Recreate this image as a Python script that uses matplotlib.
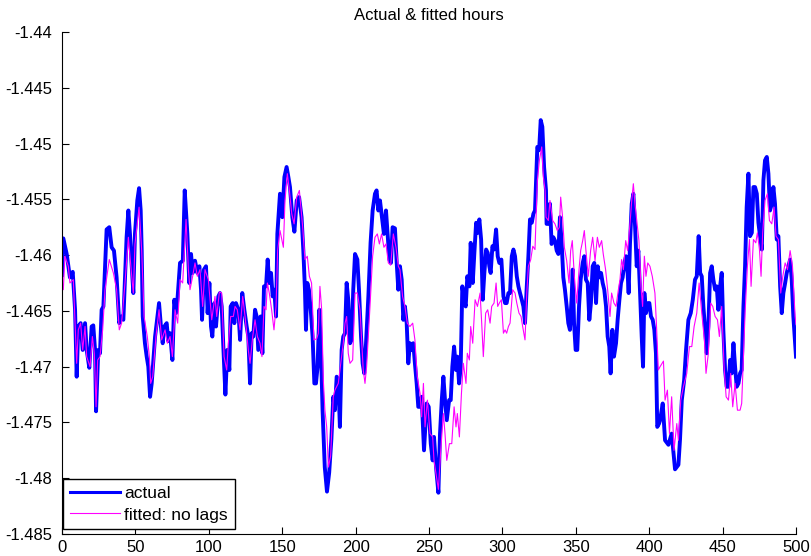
import matplotlib

matplotlib.use("Agg")
import matplotlib.pyplot as plt
import numpy as np

plt.rcParams["font.family"] = ["Liberation Sans", "DejaVu Sans"]

actual_points = [
    (0, -1.4618), (0.9, -1.4585), (3.2, -1.4599), (5.4, -1.4620), (7.3, -1.4615),
    (8.9, -1.4649), (10.0, -1.4709), (11.1, -1.4664), (12.7, -1.4661), (14.1, -1.4685),
    (15.7, -1.4661), (16.8, -1.4685), (18.6, -1.4701), (20.2, -1.4664), (21.3, -1.4663),
    (22.5, -1.4685), (23.2, -1.4740), (24.7, -1.4685), (25.9, -1.4688), (27.0, -1.4649),
    (28.2, -1.4646), (30.4, -1.4577), (32.2, -1.4575), (33.8, -1.4593), (35.4, -1.4596),
    (37.2, -1.4620), (39.0, -1.4661), (40.6, -1.4655), (41.8, -1.4658), (42.9, -1.4620),
    (44.0, -1.4584), (45.2, -1.4560), (46.3, -1.4581), (47.5, -1.4610), (48.6, -1.4634),
    (49.7, -1.4581), (51.3, -1.4551), (52.5, -1.4540), (53.6, -1.4560), (54.3, -1.4596),
    (55.0, -1.4655), (56.5, -1.4679), (57.7, -1.4691), (58.8, -1.4700), (60.0, -1.4727),
    (61.1, -1.4715), (63.4, -1.4673), (64.5, -1.4661), (66.1, -1.4643), (67.4, -1.4664),
    (68.6, -1.4679), (69.7, -1.4664), (71.3, -1.4661), (72.4, -1.4677), (73.6, -1.4670),
    (75.2, -1.4694), (76.5, -1.4640), (77.7, -1.4652), (78.8, -1.4637), (80.4, -1.4607),
    (82.3, -1.4605), (83.6, -1.4542), (85.4, -1.4581), (86.7, -1.4625), (87.9, -1.4599),
    (89.0, -1.4616), (90.6, -1.4605), (92.2, -1.4616), (93.6, -1.4610), (94.7, -1.4631),
    (95.4, -1.4658), (96.7, -1.4613), (98.1, -1.4610), (99.2, -1.4652), (100.4, -1.4625),
    (101.5, -1.4664), (102.4, -1.4673), (103.8, -1.4643), (104.9, -1.4664), (106.5, -1.4637),
    (107.6, -1.4634), (108.8, -1.4646), (109.9, -1.4682), (111.3, -1.4725), (112.6, -1.4685),
    (114.0, -1.4703), (114.9, -1.4646), (116.3, -1.4643), (117.4, -1.4661), (118.5, -1.4643),
    (120.1, -1.4649), (121.3, -1.4676), (122.8, -1.4634), (124.2, -1.4649), (125.8, -1.4664),
    (126.9, -1.4673), (128.1, -1.4715), (129.2, -1.4670), (130.3, -1.4673), (131.5, -1.4649),
    (132.6, -1.4655), (133.7, -1.4685), (135.3, -1.4655), (136.5, -1.4688), (137.6, -1.4628),
    (139.0, -1.4628), (140.1, -1.4604), (141.2, -1.4625), (142.4, -1.4616), (143.5, -1.4637),
    (144.6, -1.4631), (145.8, -1.4655), (146.7, -1.4581), (148.5, -1.4545), (150.1, -1.4566),
    (151.5, -1.4530), (153.0, -1.4521), (154.2, -1.4530), (155.3, -1.4539), (156.9, -1.4566),
    (158.3, -1.4579), (159.9, -1.4551), (161.5, -1.4548), (163.2, -1.4566), (164.4, -1.4596),
    (165.5, -1.4631), (166.2, -1.4667), (167.1, -1.4625), (168.2, -1.4631), (169.6, -1.4652),
    (170.7, -1.4673), (171.9, -1.4715), (173.0, -1.4715), (174.1, -1.4700), (175.3, -1.4649),
    (176.4, -1.4685), (177.5, -1.4739), (179.0, -1.4790), (180.5, -1.4812), (182.0, -1.4795),
    (183.5, -1.4765), (184.8, -1.4727), (185.9, -1.4739), (187.1, -1.4709), (188.2, -1.4712),
    (189.3, -1.4754), (190.5, -1.4685), (191.6, -1.4673), (192.8, -1.4670), (193.9, -1.4625),
    (195.0, -1.4640), (196.2, -1.4679), (197.3, -1.4676), (198.4, -1.4631), (199.6, -1.4599),
    (201.2, -1.4604), (202.3, -1.4631), (203.7, -1.4673), (204.8, -1.4697), (205.9, -1.4706),
    (207.1, -1.4679), (208.7, -1.4637), (210.2, -1.4589), (211.6, -1.4560), (213.2, -1.4545),
    (214.3, -1.4542), (215.5, -1.4560), (216.6, -1.4551), (217.7, -1.4563), (219.3, -1.4581),
    (220.7, -1.4560), (221.8, -1.4581), (223.0, -1.4604), (224.1, -1.4607), (225.2, -1.4575),
    (226.8, -1.4576), (228.0, -1.4607), (229.1, -1.4631), (230.2, -1.4610), (231.4, -1.4622),
    (232.5, -1.4658), (233.6, -1.4646), (234.8, -1.4661), (235.9, -1.4697), (237.0, -1.4679),
    (238.2, -1.4685), (239.3, -1.4679), (240.4, -1.4697), (241.6, -1.4715), (242.7, -1.4736),
    (243.9, -1.4736), (245.0, -1.4727), (246.6, -1.4775), (248.4, -1.4733), (249.8, -1.4736),
    (251.2, -1.4769), (252.5, -1.4784), (253.4, -1.4763), (254.8, -1.4790), (256.4, -1.4813),
    (257.5, -1.4760), (258.7, -1.4730), (259.8, -1.4709), (260.9, -1.4730), (262.1, -1.4748),
    (263.7, -1.4730), (264.8, -1.4730), (265.9, -1.4700), (267.1, -1.4682), (268.4, -1.4703),
    (269.3, -1.4691), (270.5, -1.4715), (271.6, -1.4700), (272.7, -1.4628), (273.9, -1.4640),
    (275.0, -1.4646), (276.1, -1.4619), (277.5, -1.4628), (278.4, -1.4589), (279.8, -1.4625),
    (280.9, -1.4598), (282.1, -1.4571), (283.2, -1.4580), (284.3, -1.4568), (285.5, -1.4586),
    (286.6, -1.4640), (287.7, -1.4616), (288.9, -1.4595), (290.0, -1.4598), (291.1, -1.4610),
    (292.0, -1.4616), (293.2, -1.4592), (294.3, -1.4595), (295.7, -1.4577), (296.8, -1.4601),
    (297.9, -1.4607), (299.3, -1.4604), (300.7, -1.4637), (301.8, -1.4643), (302.9, -1.4643),
    (304.1, -1.4634), (305.2, -1.4634), (306.4, -1.4601), (307.5, -1.4595), (308.6, -1.4601),
    (309.8, -1.4619), (310.9, -1.4628), (312.0, -1.4634), (313.2, -1.4640), (314.3, -1.4646),
    (315.4, -1.4661), (316.6, -1.4628), (317.7, -1.4601), (318.8, -1.4568), (320.0, -1.4571),
    (321.1, -1.4563), (322.2, -1.4560), (322.9, -1.4536), (323.8, -1.4503), (325.0, -1.4506),
    (326.1, -1.4479), (327.2, -1.4485), (328.4, -1.4521), (329.7, -1.4542), (330.1, -1.4572),
    (331.3, -1.4572), (332.4, -1.4554), (333.5, -1.4590), (334.7, -1.4584), (335.8, -1.4587),
    (337.0, -1.4596), (338.1, -1.4599), (339.2, -1.4566), (340.4, -1.4590), (341.5, -1.4620),
    (342.6, -1.4631), (343.8, -1.4646), (344.9, -1.4661), (346.0, -1.4667), (347.2, -1.4637),
    (347.9, -1.4613), (348.8, -1.4661), (349.9, -1.4685), (351.0, -1.4685), (352.2, -1.4646),
    (353.3, -1.4622), (354.7, -1.4607), (355.8, -1.4601), (356.9, -1.4622), (358.1, -1.4625),
    (359.2, -1.4658), (360.3, -1.4643), (361.5, -1.4610), (362.6, -1.4607), (363.8, -1.4643),
    (364.9, -1.4610), (366.0, -1.4620), (367.2, -1.4616), (368.3, -1.4625), (369.4, -1.4631),
    (370.6, -1.4646), (371.7, -1.4673), (372.8, -1.4682), (373.7, -1.4706), (374.9, -1.4667),
    (376.0, -1.4691), (377.4, -1.4679), (378.5, -1.4658), (379.7, -1.4640), (380.8, -1.4625),
    (381.9, -1.4620), (383.1, -1.4607), (384.2, -1.4601), (385.3, -1.4616), (386.0, -1.4634),
    (386.9, -1.4590), (388.1, -1.4554), (389.2, -1.4545), (390.3, -1.4572), (391.5, -1.4610),
    (392.6, -1.4596), (393.7, -1.4631), (394.9, -1.4673), (395.8, -1.4700), (396.7, -1.4634),
    (397.8, -1.4652), (399.0, -1.4643), (400.1, -1.4643), (401.2, -1.4655), (402.4, -1.4658),
    (403.5, -1.4667), (404.6, -1.4688), (405.5, -1.4754), (406.7, -1.4751), (407.4, -1.4748),
    (409.2, -1.4733), (410.8, -1.4766), (413.1, -1.4770), (415.3, -1.4760), (417.6, -1.4792),
    (419.9, -1.4788), (421.0, -1.4765), (422.2, -1.4730), (423.8, -1.4712), (425.1, -1.4685),
    (426.7, -1.4658), (428.3, -1.4652), (429.7, -1.4640), (431.2, -1.4622), (432.4, -1.4619),
    (433.7, -1.4583), (434.7, -1.4616), (435.8, -1.4619), (436.9, -1.4646), (438.1, -1.4667),
    (439.2, -1.4688), (440.3, -1.4664), (441.5, -1.4616), (442.6, -1.4610), (443.7, -1.4622),
    (444.9, -1.4631), (446.0, -1.4628), (447.1, -1.4649), (448.3, -1.4628), (449.4, -1.4616),
    (450.5, -1.4667), (451.7, -1.4703), (452.8, -1.4718), (454.0, -1.4718), (455.1, -1.4694),
    (456.2, -1.4706), (457.4, -1.4679), (458.5, -1.4700), (459.6, -1.4718), (460.8, -1.4715),
    (461.9, -1.4706), (463.0, -1.4703), (464.2, -1.4646), (465.3, -1.4610), (466.4, -1.4557),
    (467.6, -1.4527), (468.7, -1.4583), (469.9, -1.4580), (471.0, -1.4539), (472.1, -1.4539),
    (473.3, -1.4545), (474.4, -1.4571), (475.5, -1.4583), (476.7, -1.4595), (477.8, -1.4533),
    (478.9, -1.4515), (480.1, -1.4512), (481.2, -1.4527), (482.3, -1.4560), (483.5, -1.4554),
    (484.6, -1.4539), (485.7, -1.4554), (486.9, -1.4586), (488.0, -1.4583), (489.2, -1.4628),
    (490.3, -1.4652), (491.4, -1.4634), (492.6, -1.4625), (493.7, -1.4616), (494.8, -1.4610),
    (496.0, -1.4604), (497.1, -1.4622), (498.2, -1.4655), (500.0, -1.4691),
]

fitted_points = [
    (0, -1.4628), (0.9, -1.4631), (2.0, -1.4601), (4.3, -1.4610), (5.4, -1.4625),
    (7.7, -1.4622), (10.0, -1.4697), (11.1, -1.4667), (12.7, -1.4661), (14.1, -1.4685),
    (15.7, -1.4664), (16.8, -1.4691), (19.1, -1.4700), (20.7, -1.4673), (22.0, -1.4688),
    (23.2, -1.4736), (24.3, -1.4694), (25.9, -1.4691), (27.7, -1.4667), (29.3, -1.4631),
    (32.2, -1.4604), (35.0, -1.4616), (37.2, -1.4631), (39.0, -1.4667), (40.6, -1.4661),
    (42.9, -1.4625), (45.2, -1.4584), (47.5, -1.4619), (48.6, -1.4634), (49.7, -1.4590),
    (52.5, -1.4557), (54.3, -1.4596), (55.9, -1.4655), (58.1, -1.4673), (59.5, -1.4691),
    (60.4, -1.4715), (61.8, -1.4709), (64.0, -1.4673), (66.1, -1.4649), (67.9, -1.4676),
    (70.2, -1.4667), (71.8, -1.4679), (73.6, -1.4673), (75.2, -1.4691), (77.0, -1.4649),
    (78.8, -1.4661), (80.4, -1.4622), (82.2, -1.4625), (84.5, -1.4568), (86.1, -1.4613),
    (87.2, -1.4631), (89.0, -1.4619), (90.6, -1.4607), (92.2, -1.4619), (94.0, -1.4613),
    (95.8, -1.4646), (97.4, -1.4613), (99.7, -1.4622), (102.0, -1.4658), (104.2, -1.4637),
    (105.4, -1.4655), (107.2, -1.4633), (108.8, -1.4634), (110.4, -1.4691), (112.2, -1.4703),
    (113.3, -1.4679), (114.9, -1.4655), (116.7, -1.4655), (117.9, -1.4646), (119.4, -1.4649),
    (121.3, -1.4667), (123.1, -1.4637), (124.7, -1.4655), (126.9, -1.4685), (128.1, -1.4697),
    (129.9, -1.4673), (131.5, -1.4658), (133.1, -1.4673), (134.9, -1.4679), (136.2, -1.4691),
    (137.6, -1.4646), (139.0, -1.4649), (139.9, -1.4625), (141.2, -1.4634), (142.8, -1.4649),
    (144.4, -1.4667), (145.8, -1.4646), (146.9, -1.4596), (148.5, -1.4578), (150.8, -1.4593),
    (151.9, -1.4551), (153.5, -1.4527), (154.9, -1.4542), (156.5, -1.4563), (158.1, -1.4572),
    (159.9, -1.4548), (161.7, -1.4542), (163.9, -1.4574), (165.5, -1.4604), (167.1, -1.4601),
    (168.5, -1.4619), (170.0, -1.4625), (171.6, -1.4676), (173.5, -1.4675), (174.6, -1.4670),
    (175.7, -1.4628), (176.9, -1.4649), (178.0, -1.4712), (179.1, -1.4739), (180.3, -1.4754),
    (181.5, -1.4790), (183.0, -1.4780), (184.8, -1.4727), (185.9, -1.4721), (188.2, -1.4715),
    (190.5, -1.4691), (191.6, -1.4679), (192.8, -1.4661), (193.9, -1.4655), (195.0, -1.4688),
    (196.2, -1.4697), (198.0, -1.4694), (199.6, -1.4634), (201.2, -1.4634), (203.0, -1.4649),
    (205.2, -1.4703), (206.4, -1.4715), (207.5, -1.4700), (209.8, -1.4646), (211.6, -1.4601),
    (213.2, -1.4584), (214.8, -1.4581), (216.2, -1.4590), (217.7, -1.4581), (219.3, -1.4593),
    (220.7, -1.4590), (222.3, -1.4607), (223.9, -1.4609), (225.7, -1.4581), (227.5, -1.4593),
    (229.1, -1.4610), (230.2, -1.4613), (232.0, -1.4637), (233.6, -1.4646), (235.2, -1.4661),
    (237.0, -1.4664), (238.9, -1.4661), (240.4, -1.4676), (242.0, -1.4709), (243.9, -1.4724),
    (245.0, -1.4745), (246.2, -1.4715), (247.3, -1.4754), (248.9, -1.4730), (250.7, -1.4760),
    (252.5, -1.4763), (253.4, -1.4784), (254.8, -1.4796), (256.4, -1.4810), (258.0, -1.4775),
    (259.8, -1.4742), (260.9, -1.4760), (262.1, -1.4784), (263.9, -1.4769), (265.5, -1.4769),
    (267.1, -1.4736), (268.4, -1.4754), (269.3, -1.4742), (270.7, -1.4763), (272.1, -1.4724),
    (273.4, -1.4697), (275.2, -1.4715), (276.1, -1.4688), (277.5, -1.4694), (278.4, -1.4664),
    (279.8, -1.4679), (281.4, -1.4640), (283.0, -1.4646), (284.8, -1.4634), (285.9, -1.4661),
    (287.0, -1.4691), (288.6, -1.4652), (290.0, -1.4649), (291.6, -1.4661), (292.7, -1.4646),
    (294.3, -1.4643), (295.7, -1.4625), (296.8, -1.4646), (297.9, -1.4643), (299.3, -1.4640),
    (300.7, -1.4670), (301.8, -1.4667), (302.9, -1.4670), (304.1, -1.4664), (305.2, -1.4661),
    (307.0, -1.4631), (308.6, -1.4634), (309.8, -1.4643), (311.3, -1.4652), (312.7, -1.4655),
    (313.8, -1.4664), (315.4, -1.4676), (316.6, -1.4634), (317.7, -1.4610), (319.3, -1.4604),
    (320.7, -1.4592), (322.2, -1.4595), (323.8, -1.4533), (325.2, -1.4515), (326.8, -1.4503),
    (327.9, -1.4530), (329.1, -1.4542), (329.7, -1.4566), (331.3, -1.4569), (332.4, -1.4551),
    (334.2, -1.4569), (335.8, -1.4572), (337.4, -1.4578), (338.8, -1.4575), (339.7, -1.4548),
    (341.0, -1.4566), (342.2, -1.4593), (343.8, -1.4605), (345.4, -1.4625), (346.5, -1.4596),
    (347.6, -1.4587), (349.0, -1.4619), (350.6, -1.4643), (352.2, -1.4613), (353.3, -1.4596),
    (354.7, -1.4587), (355.8, -1.4578), (356.9, -1.4596), (358.5, -1.4619), (360.1, -1.4596),
    (361.5, -1.4584), (363.1, -1.4605), (364.7, -1.4584), (366.0, -1.4593), (367.6, -1.4587),
    (368.7, -1.4599), (370.3, -1.4613), (371.7, -1.4631), (373.3, -1.4655), (374.4, -1.4634),
    (376.0, -1.4643), (377.4, -1.4646), (379.0, -1.4631), (380.1, -1.4622), (381.2, -1.4604),
    (382.4, -1.4613), (384.0, -1.4587), (385.3, -1.4596), (386.9, -1.4572), (388.1, -1.4551),
    (389.2, -1.4536), (390.3, -1.4554), (391.5, -1.4569), (393.0, -1.4587), (394.4, -1.4628),
    (395.5, -1.4646), (396.7, -1.4601), (397.8, -1.4619), (399.0, -1.4607), (400.5, -1.4610),
    (402.1, -1.4619), (403.9, -1.4634), (405.1, -1.4667), (406.2, -1.4703), (407.4, -1.4700),
    (409.7, -1.4695), (410.8, -1.4730), (412.4, -1.4721), (413.8, -1.4760), (415.3, -1.4727),
    (416.9, -1.4775), (418.8, -1.4751), (419.9, -1.4766), (421.5, -1.4730), (423.3, -1.4718),
    (425.6, -1.4706), (427.4, -1.4682), (429.0, -1.4682), (430.6, -1.4664), (432.4, -1.4652),
    (434.0, -1.4625), (435.8, -1.4652), (437.6, -1.4676), (438.7, -1.4706), (440.3, -1.4688),
    (441.9, -1.4643), (443.3, -1.4646), (444.9, -1.4655), (446.5, -1.4658), (447.8, -1.4673),
    (449.4, -1.4646), (451.0, -1.4700), (452.4, -1.4727), (454.0, -1.4730), (455.5, -1.4706),
    (456.9, -1.4736), (458.5, -1.4715), (460.1, -1.4739), (461.9, -1.4739), (463.0, -1.4733),
    (464.2, -1.4691), (465.3, -1.4652), (466.9, -1.4610), (468.3, -1.4586), (469.4, -1.4628),
    (471.0, -1.4586), (472.6, -1.4589), (473.7, -1.4580), (475.1, -1.4595), (476.2, -1.4619),
    (477.3, -1.4580), (478.9, -1.4551), (480.5, -1.4545), (481.9, -1.4569), (483.5, -1.4572),
    (485.1, -1.4557), (486.4, -1.4583), (488.0, -1.4586), (489.6, -1.4634), (491.0, -1.4619),
    (492.6, -1.4607), (494.2, -1.4613), (496.0, -1.4596), (497.6, -1.4610), (499.4, -1.4655),
    (500.0, -1.4662),
]

x_ticks = [0, 50, 100, 150, 200, 250, 300, 350, 400, 450, 500]
y_ticks = [-1.485, -1.48, -1.475, -1.47, -1.465, -1.46, -1.455, -1.45, -1.445, -1.44]
y_tick_labels = ["-1.485", "-1.48", "-1.475", "-1.47", "-1.465",
                 "-1.46", "-1.455", "-1.45", "-1.445", "-1.44"]

actual = np.array(actual_points)
fitted = np.array(fitted_points)

figure = plt.figure(figsize=(8.12, 5.56), dpi=100)
axis = figure.add_axes([62 / 812, 1 - 534 / 556, 734 / 812, 502 / 556])

axis.plot(actual[:, 0], actual[:, 1], color="#0000ff", linewidth=2.8,
          label="actual", solid_joinstyle="round")
axis.plot(fitted[:, 0], fitted[:, 1], color="#ff00ff", linewidth=0.8,
          label="fitted: no lags")

axis.set_xlim(0, 500)
axis.set_ylim(-1.485, -1.44)
axis.set_xticks(x_ticks)
axis.set_yticks(y_ticks)
axis.set_yticklabels(y_tick_labels)
axis.tick_params(direction="in", length=5, width=0.8, labelsize=12,
                 top=False, right=False)
axis.tick_params(axis="y", pad=7)
axis.tick_params(axis="x", pad=4)
axis.spines["top"].set_visible(False)
axis.spines["right"].set_visible(False)
for side in ("left", "bottom"):
    axis.spines[side].set_linewidth(0.8)

axis.set_title("Actual & fitted hours", fontsize=12, pad=9)

legend = axis.legend(loc="lower left", bbox_to_anchor=(0.001, 0.009),
                     borderaxespad=0, fontsize=12.5,
                     handlelength=2.9, handletextpad=0.25, borderpad=0.4,
                     labelspacing=0.35, fancybox=False, framealpha=1,
                     edgecolor="black")
legend.get_frame().set_linewidth(1.0)
legend.get_lines()[0].set_linewidth(2.2)

figure.savefig("out.png", dpi=100)
